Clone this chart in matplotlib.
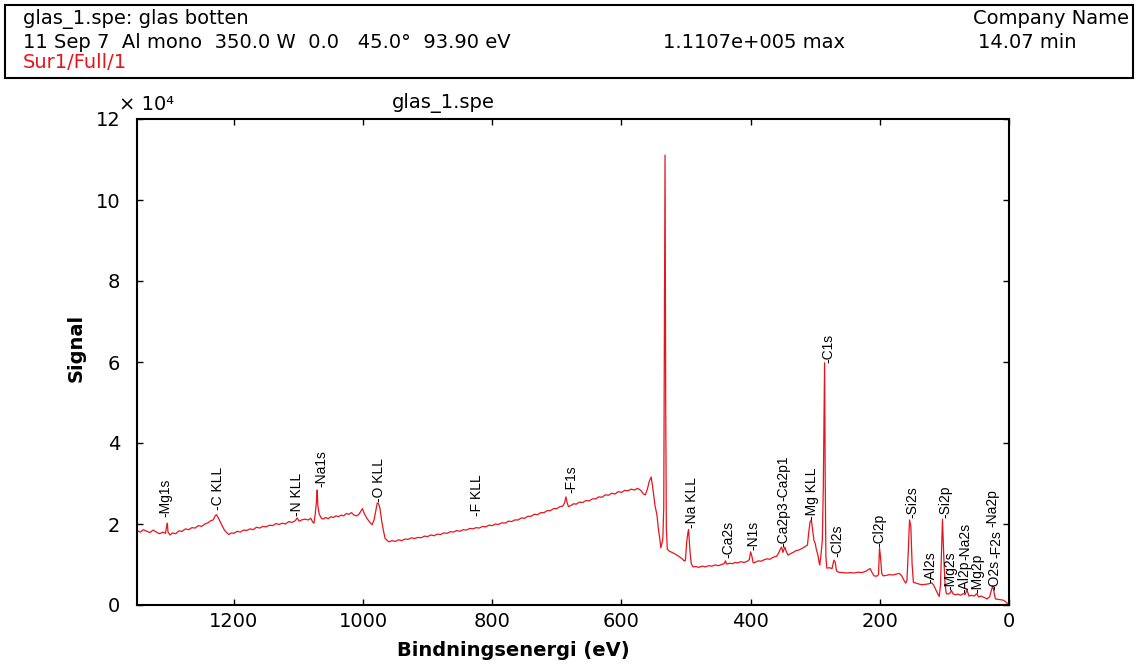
# coding:utf-8
# XPS survey spectrum, glas_1.spe
from matplotlib import pyplot as plt
from matplotlib import font_manager
from matplotlib.patches import Rectangle

# binding energy (eV) and signal (x 10^4 counts)
be = [1350, 1345, 1340, 1335, 1330, 1325, 1320, 1315, 1310, 1306, 1304, 1303, 1302, 1299,
      1295, 1290, 1285, 1280, 1275, 1270, 1265, 1260, 1255, 1250, 1245, 1240, 1236, 1232,
      1229, 1227, 1224, 1221, 1218, 1215, 1212, 1208, 1204, 1200, 1195, 1190, 1185, 1180,
      1175, 1170, 1165, 1160, 1155, 1150, 1145, 1140, 1135, 1130, 1125, 1120, 1115, 1110,
      1105, 1102, 1099, 1095, 1090, 1085, 1081, 1078, 1076, 1074, 1072, 1071, 1070, 1068,
      1065, 1062, 1058, 1054, 1050, 1046, 1042, 1038, 1034, 1030, 1026, 1022, 1018, 1014,
      1010, 1006, 1003, 1001, 998, 994, 990, 986, 983, 980, 978, 976, 974, 971, 968, 966,
      963, 960, 955, 950, 945, 940, 935, 930, 925, 920, 915, 910, 905, 900,
      895, 890, 885, 880, 875, 870, 865, 860, 855, 850, 845, 840, 835, 830, 825, 820, 815,
      810, 805, 800, 795, 790, 785, 780, 775, 770, 765, 760, 755, 750, 745, 740, 735, 730,
      725, 720, 715, 710, 705, 700, 695, 691, 688, 686, 684, 682, 678, 674, 670, 665, 660,
      655, 650, 645, 640, 635, 630, 625, 620, 615, 610, 605, 600, 595, 590, 585, 580, 575,
      570, 566, 563, 560, 557, 554, 552, 550, 548, 545, 543, 541, 539, 537, 536, 534.5,
      533.5, 532.5, 531.5, 530.5, 529, 526, 522, 518, 514, 510, 506, 503, 501, 499, 497,
      496, 494, 492, 489, 485, 480, 475, 470, 465, 460, 455, 450, 445, 441, 439, 437, 433,
      428, 424, 420, 415, 410, 405, 402, 400, 398, 396, 392, 388, 384, 380, 375, 370, 365,
      360, 357, 354, 352, 350, 347, 345, 342, 338, 334, 330, 325, 320, 315, 312, 310, 308,
      306, 304, 302, 300, 298, 296, 294, 293, 291, 289, 287.5, 285.5, 284.5, 283.5, 282,
      278, 274, 271, 269, 267, 264, 258, 252, 246, 240, 234, 228, 222, 218, 215, 212, 209,
      205, 202, 200.5, 199, 197, 195, 190, 185, 180, 175, 170, 166, 163, 160, 158, 156, 154,
      152, 150, 148, 144, 140, 135, 130, 125, 120, 117, 114, 111, 108, 106, 104, 103, 101,
      99, 97, 94, 91, 89, 87, 83, 79, 75, 71, 68, 65, 62, 58, 54, 50, 47, 43, 38, 34, 30,
      27, 25, 23, 21, 17, 13, 9, 5, 2, 0]
signal = [1.84, 1.80, 1.86, 1.82, 1.79, 1.85, 1.80, 1.76, 1.80, 1.77, 1.95, 2.02, 1.80, 1.73,
          1.78, 1.76, 1.83, 1.82, 1.88, 1.86, 1.91, 1.90, 1.96, 1.94, 2.00, 2.03, 2.08, 2.10,
          2.20, 2.23, 2.15, 2.05, 1.95, 1.86, 1.80, 1.74, 1.78, 1.77, 1.82, 1.80, 1.85, 1.84,
          1.88, 1.86, 1.92, 1.90, 1.94, 1.93, 1.97, 1.96, 2.01, 1.99, 2.02, 2.00, 2.06, 2.04,
          2.08, 2.15, 2.07, 2.10, 2.12, 2.10, 2.14, 2.05, 2.02, 2.25, 2.60, 2.84, 2.45, 2.25,
          2.15, 2.12, 2.16, 2.13, 2.18, 2.16, 2.20, 2.18, 2.22, 2.20, 2.26, 2.24, 2.28, 2.22,
          2.20, 2.25, 2.33, 2.38, 2.25, 2.14, 2.05, 1.98, 2.10, 2.35, 2.52, 2.50, 2.40, 2.05,
          1.80, 1.65, 1.60, 1.56, 1.59, 1.57, 1.61, 1.59, 1.63, 1.62, 1.66, 1.64, 1.67, 1.66,
          1.70, 1.69,
          1.73, 1.71, 1.75, 1.74, 1.78, 1.77, 1.81, 1.80, 1.84, 1.82, 1.86, 1.85, 1.89, 1.88,
          1.91, 1.90, 1.94, 1.93, 1.97, 1.96, 2.00, 1.99, 2.03, 2.02, 2.07, 2.06, 2.10, 2.10,
          2.15, 2.14, 2.19, 2.19, 2.24, 2.23, 2.28, 2.28, 2.33, 2.33, 2.38, 2.38, 2.43, 2.44,
          2.52, 2.67, 2.52, 2.43, 2.46, 2.50, 2.49, 2.54, 2.53, 2.58, 2.57, 2.62, 2.62, 2.67,
          2.66, 2.72, 2.71, 2.76, 2.74, 2.80, 2.78, 2.83, 2.82, 2.86, 2.84, 2.88, 2.83, 2.74,
          2.72, 2.85, 3.05, 3.16, 2.95, 2.70, 2.45, 2.22, 1.90, 1.68, 1.41, 1.55, 1.62, 2.40,
          6.50, 11.107, 5.00, 1.90, 1.38, 1.33, 1.30, 1.27, 1.23, 1.19, 1.14, 1.09, 1.10, 1.55,
          1.80, 1.86, 1.35, 1.02, 0.94, 0.95, 0.93, 0.96, 0.94, 0.97, 0.96, 0.99, 0.97, 1.00,
          1.02, 1.09, 1.01, 1.03, 1.02, 1.05, 1.04, 1.07, 1.05, 1.08, 1.12, 1.31, 1.20, 1.04,
          1.06, 1.09, 1.08, 1.11, 1.14, 1.13, 1.18, 1.20, 1.27, 1.38, 1.43, 1.30, 1.43, 1.33,
          1.23, 1.27, 1.30, 1.34, 1.36, 1.40, 1.45, 1.48, 1.80, 2.05, 2.10, 1.85, 1.60, 1.52,
          1.35, 1.25, 1.05, 0.99, 1.25, 1.60, 2.90, 5.98, 3.00, 1.20, 0.91, 0.92, 0.90, 1.11,
          1.05, 0.84, 0.81, 0.80, 0.79, 0.80, 0.79, 0.81, 0.80, 0.83, 0.87, 0.90, 0.80, 0.72,
          0.71, 0.75, 1.41, 1.20, 0.78, 0.72, 0.73, 0.75, 0.74, 0.76, 0.78, 0.72, 0.62, 0.54,
          0.60, 1.30, 2.10, 1.95, 1.00, 0.56, 0.54, 0.52, 0.50, 0.51, 0.52, 0.55, 0.50, 0.40,
          0.30, 0.21, 0.50, 1.60, 2.12, 1.20, 0.50, 0.28, 0.27, 0.30, 0.36, 0.28, 0.25, 0.27,
          0.24, 0.28, 0.26, 0.37, 0.22, 0.24, 0.22, 0.28, 0.20, 0.22, 0.18, 0.15, 0.20, 0.38,
          0.47, 0.30, 0.15, 0.14, 0.13, 0.12, 0.08, 0.02, 0.0]

# peak labels: name, binding energy, height of label foot (x 10^4)
peak_names = ['Mg1s', 'C KLL', 'N KLL', 'Na1s', 'O KLL', 'F KLL', 'F1s', 'Na KLL', 'Ca2s',
              'N1s', 'Ca2p3', 'Ca2p1', 'Mg KLL', 'C1s', 'Cl2s', 'Cl2p', 'Si2s', 'Si2p',
              'Al2s', 'Mg2s', 'Al2p', 'Na2s', 'Mg2p', 'O2s', 'F2s', 'Na2p']
peak_be = [1306, 1224, 1102, 1065, 975, 824, 678, 491, 435,
           396, 350, 350, 305, 280, 266, 200, 150, 99,
           122, 91, 69, 67, 49, 22, 19, 25]
peak_y = [2.17, 2.35, 2.2, 2.91, 2.54, 2.2, 2.77, 1.9, 1.16,
          1.36, 1.43, 2.58, 2.1, 5.98, 1.19, 1.43, 2.15, 2.15,
          0.54, 0.37, 0.3, 1.1, 0.3, 0.37, 1.16, 1.93]

installed = set(f.name for f in font_manager.fontManager.ttflist)
if 'Liberation Sans Narrow' in installed:
    peak_font = ['Liberation Sans Narrow', 'DejaVu Sans']
    peak_size = 11
else:
    peak_font = ['Liberation Sans', 'DejaVu Sans']
    peak_size = 10

plt.rcParams['font.family'] = ['DejaVu Sans']
red = '#e8141b'

W, H = 1136, 664
fig = plt.figure(figsize=(W / 100, H / 100), dpi=100)

# header box
fig.patches.append(Rectangle((5 / W, 1 - 78 / H), 1128 / W, 73 / H, transform=fig.transFigure,
                             fill=False, lw=1.5, ec='black'))
hs = 14
fig.text(23 / W, 1 - 19 / H, 'glas_1.spe: glas botten', fontsize=hs, va='center')
fig.text(973 / W, 1 - 19 / H, 'Company Name', fontsize=hs, va='center')
fig.text(23 / W, 1 - 42 / H, '11 Sep 7  Al mono  350.0 W  0.0   45.0°  93.90 eV',
         fontsize=hs, va='center')
fig.text(663 / W, 1 - 42 / H, '1.1107e+005 max', fontsize=hs, va='center')
fig.text(978 / W, 1 - 42 / H, '14.07 min', fontsize=hs, va='center')
fig.text(23 / W, 1 - 63 / H, 'Sur1/Full/1', fontsize=hs, va='center', color=red)

ax = fig.add_axes([137 / W, 1 - 605 / H, 872 / W, 486 / H])
ax.plot(be, signal, color=red, lw=0.9)

for name, x, y in zip(peak_names, peak_be, peak_y):
    ax.text(x, y, '-' + name, rotation=90, ha='center', va='bottom',
            fontsize=peak_size, family=peak_font)

ax.set_xlim(1350, 0)
ax.set_ylim(0, 12)
ax.set_xticks([1200, 1000, 800, 600, 400, 200, 0])
ax.set_yticks([0, 2, 4, 6, 8, 10, 12])
ax.tick_params(direction='in', length=4, width=1, top=True, right=True,
               labelsize=14)
ax.tick_params(axis='y', pad=12)
ax.tick_params(axis='x', pad=5)
for s in ax.spines.values():
    s.set_linewidth(1.5)

ax.set_xlabel('Bindningsenergi (eV)', fontsize=14, fontweight='bold')
ax.xaxis.set_label_coords((513 - 137) / 872, -(650 - 605) / 486)
ax.set_ylabel('Signal', fontsize=14, fontweight='bold')
ax.yaxis.set_label_coords(-(137 - 76) / 872, (605 - 348) / 486)
ax.xaxis.label.set_va('center')
ax.yaxis.label.set_va('center')
ax.text(0.351, 1 + 11 / 486, 'glas_1.spe', transform=ax.transAxes, ha='center',
        va='baseline', fontsize=14)
fig.text(119 / W, 1 - 110 / H, '× 10⁴', fontsize=14, va='baseline')

fig.savefig('out.png', dpi=100)
